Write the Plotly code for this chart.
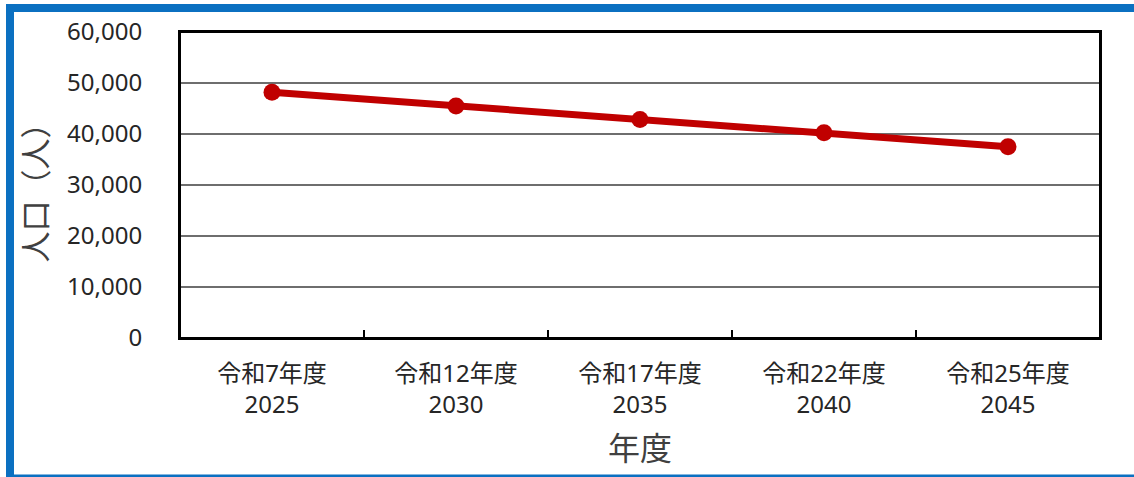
import plotly.graph_objects as go

categories = ["令和7年度<br>2025", "令和12年度<br>2030", "令和17年度<br>2035", "令和22年度<br>2040", "令和25年度<br>2045"]
population = [48200, 45470, 42850, 40230, 37500]
y_ticks = [0, 10000, 20000, 30000, 40000, 50000, 60000]
y_tick_labels = ["0", "10,000", "20,000", "30,000", "40,000", "50,000", "60,000"]

W, H = 1134, 477
L, R, T, B = 180, 34, 32, 139
pw, ph = W - L - R, H - T - B

def px(x):
    return (x - L) / pw

def py(y):
    return (H - B - y) / ph

FONT = "Noto Sans, Noto Sans CJK JP"
BLUE = "#0B70C1"

fig = go.Figure()
fig.add_trace(go.Scatter(
    x=categories, y=population, mode="lines+markers",
    line=dict(color="#C00000", width=7),
    marker=dict(color="#C00000", size=17),
    hoverinfo="skip", showlegend=False,
))

shapes = [
    dict(type="rect", xref="paper", yref="paper", x0=px(6), x1=px(14), y0=py(477), y1=py(4),
         fillcolor=BLUE, line=dict(width=0), layer="above"),
    dict(type="rect", xref="paper", yref="paper", x0=px(6), x1=px(1134), y0=py(12), y1=py(4),
         fillcolor=BLUE, line=dict(width=0), layer="above"),
    dict(type="rect", xref="paper", yref="paper", x0=px(6), x1=px(1134), y0=py(477), y1=py(474.5),
         fillcolor=BLUE, line=dict(width=0), layer="above"),
    dict(type="rect", xref="paper", yref="paper", x0=0, x1=1, y0=0, y1=1,
         line=dict(color="#000000", width=2), fillcolor="rgba(0,0,0,0)", layer="above"),
]

fig.update_layout(
    width=W, height=H,
    margin=dict(l=L, r=R, t=T, b=B, pad=0),
    paper_bgcolor="white", plot_bgcolor="white",
    font=dict(family=FONT, size=24, color="#262626"),
    shapes=shapes,
    xaxis=dict(
        type="category", tickson="boundaries", ticks="inside", ticklen=8, tickwidth=2,
        tickcolor="#000000", showgrid=False, showline=True, linecolor="#000000", linewidth=2,
        mirror=True, tickfont=dict(size=24, color="#262626"), ticklabelstandoff=13,
        title=dict(text="年度", font=dict(size=32, color="#404040"), standoff=19),
        range=[-0.5, 4.5], fixedrange=True,
    ),
    yaxis=dict(
        range=[0, 60000], tickvals=y_ticks, ticktext=y_tick_labels, ticks="",
        showgrid=True, gridcolor="#6e6e6e", gridwidth=1.5, zeroline=False,
        showline=True, linecolor="#000000", linewidth=2, mirror=True,
        tickfont=dict(size=24, color="#262626"), ticklabelstandoff=31,
        title=dict(text="人口（人）", font=dict(size=31, color="#404040"), standoff=10),
        fixedrange=True,
    ),
)

fig.write_html("out.html", config={"displayModeBar": False},
               post_script="document.body.style.margin='0';document.body.style.padding='0';")
